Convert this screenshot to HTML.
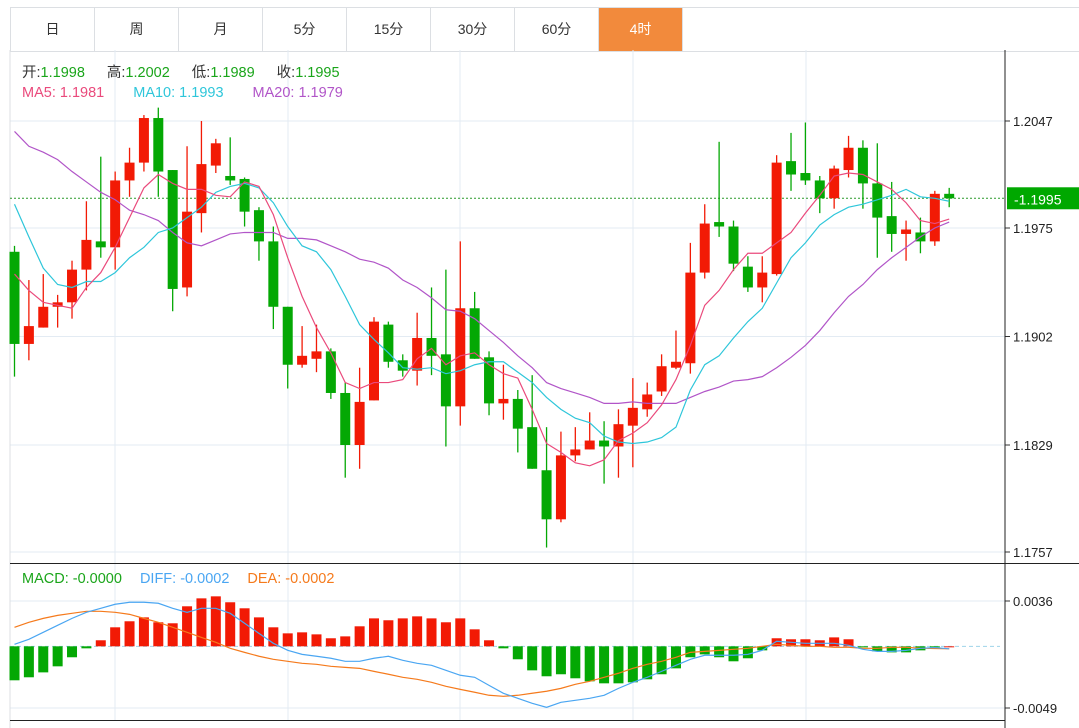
<!DOCTYPE html>
<html><head><meta charset="utf-8"><style>
body{margin:0;background:#fff;width:1079px;height:728px;overflow:hidden;font-family:"Liberation Sans","Noto Sans CJK SC",sans-serif}
.tabs{position:absolute;left:10px;top:7px;height:43px;width:1069px;border-top:1px solid #dcdfe3;border-bottom:1px solid #dcdfe3;border-left:1px solid #dcdfe3}
.tab{position:absolute;top:0;height:43px;line-height:43px;text-align:center;font-size:14px;color:#333;border-right:1px solid #dcdfe3;box-sizing:border-box}
.tab.on{background:#f28a3c;color:#fff}
</style></head><body>
<div class="tabs">
<div class="tab" style="left:0;width:84px">日</div>
<div class="tab" style="left:84px;width:84px">周</div>
<div class="tab" style="left:168px;width:84px">月</div>
<div class="tab" style="left:252px;width:84px">5分</div>
<div class="tab" style="left:336px;width:84px">15分</div>
<div class="tab" style="left:420px;width:84px">30分</div>
<div class="tab" style="left:504px;width:84px">60分</div>
<div class="tab on" style="left:588px;width:84px">4时</div>
</div>
<svg id="c" width="1079" height="728" style="position:absolute;left:0;top:0"></svg>
<script>
const opens=[1.1959,1.1897,1.1908,1.1922,1.1925,1.1947,1.1966,1.1962,1.2007,1.2019,1.2049,1.2014,1.1935,1.1985,1.2017,1.2010,1.2008,1.1987,1.1966,1.1922,1.1883,1.1887,1.1892,1.1864,1.1829,1.1859,1.1910,1.1886,1.1879,1.1901,1.1890,1.1855,1.1921,1.1888,1.1857,1.1860,1.1841,1.1812,1.1779,1.1822,1.1826,1.1832,1.1828,1.1842,1.1853,1.1865,1.1881,1.1884,1.1945,1.1979,1.1976,1.1949,1.1935,1.1944,1.2020,1.2012,1.2007,1.1995,1.2014,1.2029,1.2005,1.1983,1.1971,1.1972,1.1966,1.1998];
const highs=[1.1963,1.1940,1.1944,1.1930,1.1953,1.1993,1.2023,1.2013,1.2029,1.2051,1.2056,1.2014,1.2030,1.2047,1.2035,1.2036,1.2009,1.1989,1.1976,1.1922,1.1909,1.1910,1.1894,1.1871,1.1881,1.1915,1.1912,1.1890,1.1918,1.1935,1.1947,1.1966,1.1932,1.1892,1.1883,1.1866,1.1876,1.1841,1.1838,1.1841,1.1851,1.1845,1.1853,1.1874,1.1871,1.1890,1.1906,1.1965,1.1991,1.2033,1.1980,1.1956,1.1956,1.2024,1.2039,1.2046,1.2010,1.2017,1.2037,1.2034,1.2032,1.2006,1.1980,1.1982,1.2000,1.2002];
const lows=[1.1875,1.1886,1.1908,1.1908,1.1914,1.1933,1.1955,1.1947,1.1996,1.2013,1.1996,1.1919,1.1929,1.1972,1.2012,1.2004,1.1976,1.1953,1.1907,1.1867,1.1881,1.1878,1.1860,1.1807,1.1813,1.1859,1.1881,1.1875,1.1869,1.1876,1.1828,1.1842,1.1887,1.1849,1.1846,1.1824,1.1813,1.1760,1.1777,1.1818,1.1826,1.1803,1.1807,1.1814,1.1848,1.1862,1.1880,1.1877,1.1941,1.1969,1.1946,1.1932,1.1925,1.1943,1.2000,1.2004,1.1985,1.1988,1.2009,1.1988,1.1955,1.1959,1.1953,1.1958,1.1963,1.1989];
const closes=[1.1897,1.1909,1.1922,1.1925,1.1947,1.1967,1.1962,1.2007,1.2019,1.2049,1.2013,1.1934,1.1986,1.2018,1.2032,1.2007,1.1986,1.1966,1.1922,1.1883,1.1889,1.1892,1.1864,1.1829,1.1858,1.1912,1.1885,1.1879,1.1901,1.1889,1.1855,1.1921,1.1887,1.1857,1.1860,1.1840,1.1813,1.1779,1.1822,1.1826,1.1832,1.1828,1.1843,1.1854,1.1863,1.1882,1.1885,1.1945,1.1978,1.1976,1.1951,1.1935,1.1945,1.2019,1.2011,1.2007,1.1995,1.2015,1.2029,1.2005,1.1982,1.1971,1.1974,1.1966,1.1998,1.1995];
const ma5=[1.1944,1.1933,1.1925,1.1923,1.1921,1.1935,1.1945,1.1962,1.1982,1.2002,1.2011,1.2005,1.2001,1.2001,1.1997,1.1996,1.2006,1.2003,1.1984,1.1955,1.1929,1.1908,1.1891,1.1871,1.1867,1.1871,1.1871,1.1873,1.1887,1.1894,1.1883,1.1889,1.1891,1.1883,1.1877,1.1874,1.1853,1.1830,1.1824,1.1817,1.1815,1.1819,1.1832,1.1837,1.1844,1.1856,1.1873,1.1896,1.1923,1.1933,1.1947,1.1958,1.1958,1.1965,1.1972,1.1985,1.1997,1.2010,1.2012,1.2011,1.2006,1.2001,1.1992,1.1980,1.1978,1.1981];
const ma10=[1.1991,1.1969,1.1948,1.1937,1.1935,1.1939,1.1939,1.1945,1.1955,1.1962,1.1972,1.1975,1.1982,1.1989,1.1999,1.2003,1.2005,1.2002,1.1992,1.1976,1.1963,1.1959,1.1947,1.1929,1.1910,1.1900,1.1891,1.1881,1.1880,1.1881,1.1877,1.1879,1.1883,1.1885,1.1885,1.1878,1.1871,1.1861,1.1853,1.1847,1.1844,1.1835,1.1831,1.1830,1.1831,1.1834,1.1841,1.1866,1.1883,1.1889,1.1901,1.1912,1.1921,1.1938,1.1955,1.1965,1.1977,1.1984,1.1989,1.1991,1.1994,1.1997,1.2001,1.1996,1.1995,1.1993];
const ma20=[1.2040,1.2030,1.2026,1.2021,1.2013,1.2006,1.1999,1.1994,1.1987,1.1984,1.1980,1.1972,1.1965,1.1963,1.1967,1.1971,1.1972,1.1972,1.1972,1.1968,1.1968,1.1967,1.1963,1.1959,1.1954,1.1952,1.1948,1.1940,1.1935,1.1928,1.1920,1.1919,1.1914,1.1906,1.1898,1.1889,1.1881,1.1871,1.1867,1.1864,1.1861,1.1857,1.1857,1.1858,1.1857,1.1857,1.1857,1.1861,1.1865,1.1868,1.1872,1.1873,1.1875,1.1881,1.1888,1.1896,1.1906,1.1918,1.1929,1.1937,1.1947,1.1955,1.1962,1.1969,1.1975,1.1979];
const macdHist=[-0.00270,-0.00246,-0.00207,-0.00159,-0.00087,-0.00016,0.00048,0.00151,0.00199,0.00230,0.00191,0.00183,0.00318,0.00381,0.00397,0.00350,0.00302,0.00230,0.00151,0.00103,0.00111,0.00095,0.00064,0.00079,0.00159,0.00222,0.00207,0.00222,0.00238,0.00222,0.00191,0.00222,0.00135,0.00048,-0.00016,-0.00103,-0.00191,-0.00238,-0.00222,-0.00254,-0.00278,-0.00294,-0.00294,-0.00286,-0.00262,-0.00222,-0.00175,-0.00087,-0.00064,-0.00087,-0.00119,-0.00095,-0.00032,0.00064,0.00056,0.00056,0.00048,0.00071,0.00056,-0.00008,-0.00040,-0.00048,-0.00048,-0.00032,-0.00002,0];
const diffLine=[0.00016,0.00056,0.00111,0.00167,0.00222,0.00270,0.00302,0.00334,0.00350,0.00350,0.00342,0.00302,0.00270,0.00302,0.00302,0.00262,0.00183,0.00103,0.00024,-0.00032,-0.00064,-0.00079,-0.00095,-0.00119,-0.00119,-0.00095,-0.00079,-0.00111,-0.00135,-0.00151,-0.00191,-0.00230,-0.00246,-0.00310,-0.00373,-0.00413,-0.00453,-0.00485,-0.00445,-0.00429,-0.00413,-0.00389,-0.00334,-0.00286,-0.00246,-0.00199,-0.00151,-0.00103,-0.00071,-0.00071,-0.00071,-0.00064,-0.00032,0.00040,0.00032,0.00024,0.00024,0.00024,0.00008,-0.00024,-0.00040,-0.00040,-0.00032,-0.00016,-0.00010,-0.00020];
const deaLine=[0.00151,0.00191,0.00222,0.00246,0.00262,0.00278,0.00278,0.00270,0.00254,0.00222,0.00191,0.00151,0.00111,0.00071,0.00032,-0.00016,-0.00048,-0.00079,-0.00103,-0.00119,-0.00135,-0.00143,-0.00159,-0.00167,-0.00175,-0.00199,-0.00222,-0.00246,-0.00262,-0.00286,-0.00318,-0.00342,-0.00365,-0.00389,-0.00397,-0.00389,-0.00373,-0.00357,-0.00334,-0.00302,-0.00278,-0.00246,-0.00214,-0.00175,-0.00143,-0.00119,-0.00087,-0.00048,-0.00040,-0.00032,-0.00024,-0.00016,0,0.00016,0.00008,0,0,-0.00008,-0.00008,-0.00016,-0.00016,-0.00008,-0.00008,-0.00015,-0.00018,-0.00020];
const priceTicks=[1.2047,1.1975,1.1902,1.1829,1.1757];
const macdTicks=[0.0036,-0.0049];

const NS='http://www.w3.org/2000/svg',svg=document.getElementById('c');
function mk(t,a,p){const e=document.createElementNS(NS,t);for(const k in a)e.setAttribute(k,a[k]);(p||svg).appendChild(e);return e;}
const xOf=i=>14.5+i*14.38;
const yP=p=>121+(1.2047-p)/(1.2047-1.1757)*431;
const yM=v=>601+(0.0036-v)/(0.0085)*107;
const RED='#f21a05',GREEN='#04a804';
[115,288,460,633,806].forEach(x=>{const l=mk('line',{x1:x,y1:50,x2:x,y2:720,stroke:'#e3ebf3','stroke-width':1});});
priceTicks.forEach(t=>{const y=yP(t);const l=mk('line',{x1:10,y1:y,x2:1005,y2:y,stroke:'#e3ebf3'});
mk('line',{x1:1005,y1:y,x2:1010,y2:y,stroke:'#333'});
const tx=mk('text',{x:1013,y:y+5,'font-size':13,fill:'#222'});tx.textContent=t.toFixed(4);});
macdTicks.forEach(t=>{const y=yM(t);const l=mk('line',{x1:10,y1:y,x2:1005,y2:y,stroke:'#e3ebf3'});
mk('line',{x1:1005,y1:y,x2:1010,y2:y,stroke:'#333'});
const tx=mk('text',{x:1013,y:y+5,'font-size':13,fill:'#222'});tx.textContent=t.toFixed(4);});
mk('line',{x1:10,y1:50,x2:10,y2:728,stroke:'#dcdfe3'});
mk('line',{x1:1005,y1:50,x2:1005,y2:728,stroke:'#222'});
mk('line',{x1:10,y1:563.5,x2:1079,y2:563.5,stroke:'#222'});
mk('line',{x1:10,y1:720.5,x2:1005,y2:720.5,stroke:'#222'});
const lp=closes[closes.length-1];
mk('line',{x1:10,y1:yP(lp),x2:1005,y2:yP(lp),stroke:'#2a9a2a','stroke-dasharray':'2,2'});
const bx=mk('rect',{x:1007,y:yP(lp)-11,width:72,height:22,fill:'#00a800'});
const bt=mk('text',{x:1014,y:yP(lp)+6,'font-size':14,fill:'#fff'});bt.textContent='-'+lp.toFixed(4);
opens.forEach((o,i)=>{const c=closes[i],up=c>=o,col=up?RED:GREEN,x=xOf(i);
const g=mk('g',{});
mk('line',{x1:x,y1:yP(highs[i]),x2:x,y2:yP(lows[i]),stroke:col,'stroke-width':1.3},g);
const t=yP(Math.max(o,c)),b=yP(Math.min(o,c));mk('rect',{x:x-5,y:t,width:10,height:Math.max(b-t,2),fill:col},g);});
function line(arr,f,col,name){const p=mk('polyline',{points:arr.map((v,i)=>xOf(i)+','+f(v)).join(' '),fill:'none',stroke:col,'stroke-width':1.2});}
line(ma20,yP,'#b155c8','ma20-line');line(ma10,yP,'#2ec6da','ma10-line');line(ma5,yP,'#ea4a7c','ma5-line');
mk('line',{x1:10,y1:yM(0),x2:1000,y2:yM(0),stroke:'#9fd4ea','stroke-dasharray':'4,3'});
macdHist.forEach((v,i)=>{const y0=yM(0),y1=yM(v);const r=mk('rect',{x:xOf(i)-5,y:Math.min(y0,y1),width:10,height:Math.max(Math.abs(y1-y0),1),fill:v>=0?RED:GREEN});});
line(deaLine,yM,'#f57a1c','dea-line');line(diffLine,yM,'#4aa6f2','diff-line');
function hdr(y,items,name){const t=mk('text',{x:22,y:y,'font-size':14.5});
items.forEach(([s,col,dx])=>{const sp=mk('tspan',{fill:col},t);if(dx)sp.setAttribute('dx',dx);sp.textContent=s;});}
hdr(77,[['开:','#333'],['1.1998','#1aa51a'],['高:','#333',22],['1.2002','#1aa51a'],['低:','#333',22],['1.1989','#1aa51a'],['收:','#333',22],['1.1995','#1aa51a']],'ohlc-legend');
hdr(97,[['MA5: 1.1981','#ea4a7c'],['MA10: 1.1993','#2ec6da',29],['MA20: 1.1979','#b155c8',29]],'ma-legend');
hdr(583,[['MACD: -0.0000','#1aa51a'],['DIFF: -0.0002','#4aa6f2',18],['DEA: -0.0002','#f57a1c',18]],'macd-legend');
</script>
</body></html>
